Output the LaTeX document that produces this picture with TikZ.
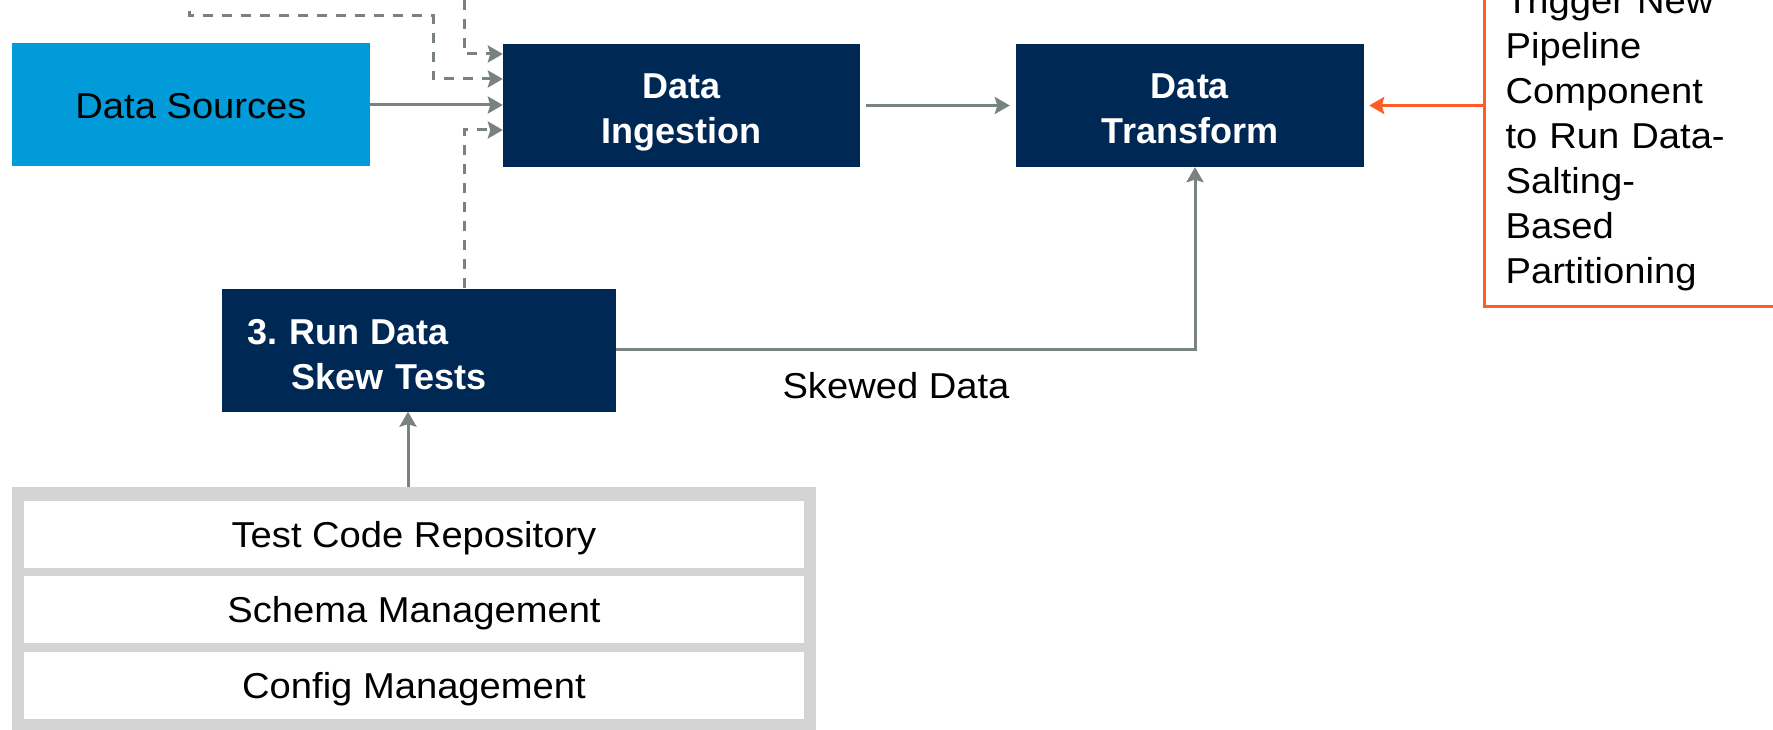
\documentclass[tikz,border=0pt]{standalone}
\usepackage{fontspec}
\setmainfont{Liberation Sans}
\newfontfamily\widesans[FakeStretch=1.06]{Liberation Sans}
\usetikzlibrary{arrows.meta,calc}
\definecolor{navy}{RGB}{0,40,85}
\definecolor{srcblue}{RGB}{0,155,216}
\definecolor{linegray}{RGB}{120,130,128}
\definecolor{alertorange}{RGB}{255,92,40}
\definecolor{framegray}{RGB}{212,212,212}
\newcommand{\capstrut}[1]{\rule{0pt}{#1}}
\begin{document}
\begin{tikzpicture}[x=1pt,y=-1pt,
  txt/.style={font=\widesans\fontsize{36}{45}\selectfont},
  navybox/.style={fill=navy, text=white, inner sep=0pt, align=center,
    font=\bfseries\fontsize{36}{45}\selectfont, minimum height=123pt},
  srcbox/.style={fill=srcblue, text=black, inner sep=0pt, txt,
    minimum height=123pt, text height=29pt, text depth=0pt},
  rowbox/.style={fill=white, inner sep=0pt, txt, minimum width=780pt,
    minimum height=67pt, text height=26pt, text depth=0pt},
  conn/.style={draw=linegray, line width=3pt,
    -{Stealth[length=15pt,width=17pt,inset=2.5pt]}},
  dconn/.style={conn, dash pattern=on 10pt off 9pt},
  hotconn/.style={draw=alertorange, line width=3.2pt,
    -{Stealth[length=15pt,width=17pt,inset=2.5pt]}}]
\useasboundingbox (0,0) rectangle (1773,730);
\clip (0,0) rectangle (1773,730);

% pipeline stages
\node[srcbox, minimum width=358pt] (src) at (191,104.5) {Data Sources};
\node[navybox, minimum width=357pt] (ing) at (681.5,105.5)
  {\capstrut{31pt}Data\\\smash{Ingestion}};
\node[navybox, minimum width=348pt] (trans) at (1190,105.5)
  {\capstrut{31pt}Data\\Transform};
\node[navybox, align=left, text width=344pt, inner xsep=25pt] (skew) at (419,350)
  {\capstrut{34pt}3.\ Run Data\\\hspace*{44pt}Skew Tests};

% stacked support services
\node[fill=framegray, inner sep=0pt, anchor=north west,
  minimum width=804pt, minimum height=260pt] (stack) at (12,487) {};
\node[rowbox] (repo) at (414,534.5) {Test Code Repository};
\node[rowbox] (schema) at (414,609.5) {Schema Management};
\node[rowbox] (config) at (414,685.5) {Config Management};

% trigger note
\node[draw=alertorange, line width=3.2pt, anchor=south west, txt, align=left,
  text width=300pt, inner xsep=21pt, inner ysep=15pt] (trig) at (1483,308)
  {Trigger New\\Pipeline\\Component\\to Run Data-\\Salting-\\Based\\Partitioning};

\node[txt, anchor=base] (skewlbl) at (896,398) {Skewed Data};

% incoming feeds from upstream stages
\coordinate (feedA) at (189,11);
\coordinate (feedB) at (464,0);
\draw[dconn] (feedA) |- (433,16) -- (433,79) -- (ing.west |- 0,79);
\draw[dconn] (feedB) |- (ing.west |- 0,54);
\draw[dconn] ([xshift=45pt]skew.north) |- (ing.west |- 0,130);

% main flow
\draw[conn] (src.east |- 0,105) -- (ing.west |- 0,105);
\draw[conn, shorten <=6pt, shorten >=6pt] (ing.east) -- (trans.west);
\draw[conn] (skew.east |- 0,349) -| ([xshift=5pt]trans.south);
\coordinate (skewin) at ([xshift=-11pt]skew.south);
\draw[conn] (stack.north -| skewin) -- (skewin);
\draw[hotconn, shorten >=5pt] (trig.west |- trans.east) -- (trans.east);
\end{tikzpicture}
\end{document}
